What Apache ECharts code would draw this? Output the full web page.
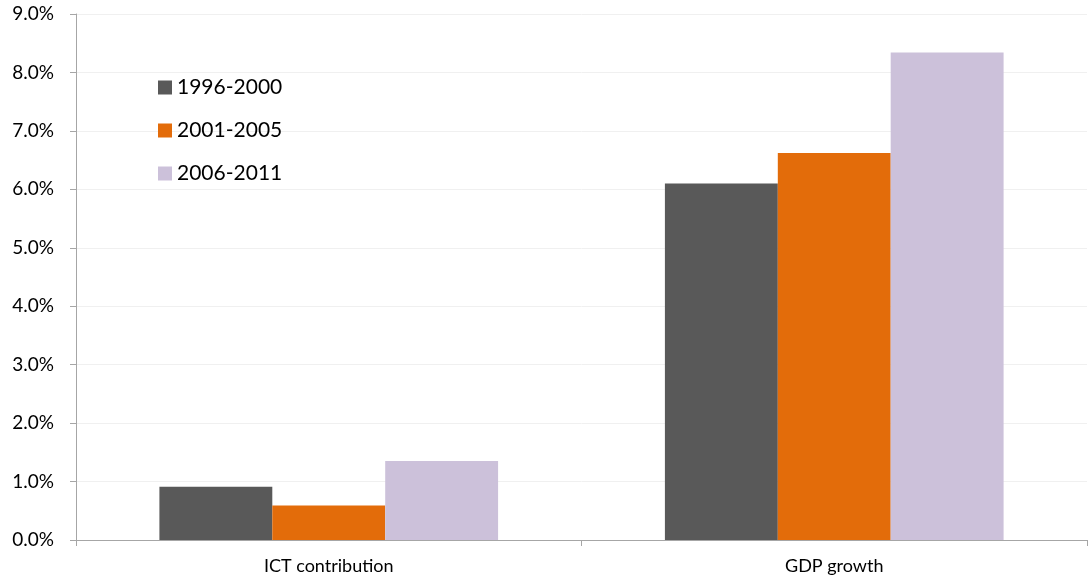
<!DOCTYPE html>
<html>
<head>
<meta charset="utf-8">
<script src="https://cdn.jsdelivr.net/npm/echarts@6/dist/echarts.min.js"></script>
<style>html,body{margin:0;padding:0;background:#fff}#c{width:1091px;height:581px}</style>
</head>
<body>
<div id="c"></div>
<script>
const categories = ['ICT contribution', 'GDP growth'];
const seriesNames = ['1996-2000', '2001-2005', '2006-2011'];
const s1996 = [0.91, 6.10];
const s2001 = [0.59, 6.62];
const s2006 = [1.35, 8.34];
const colors = ['#595959', '#E36C0A', '#CCC1DA'];
const FONT = 'Lato, "Open Sans", sans-serif';

const chart = echarts.init(document.getElementById('c'));
const data = [s1996, s2001, s2006];
chart.setOption({
  animation: false,
  textStyle: { fontFamily: FONT },
  grid: { left: 76, right: 4, top: 14, bottom: 41, containLabel: false },
  legend: {
    orient: 'vertical', left: 158, top: 77, padding: 0,
    itemWidth: 14, itemHeight: 14, itemGap: 22,
    icon: 'rect',
    textStyle: { fontSize: 21, color: '#000', fontFamily: FONT, lineHeight: 21 },
    data: seriesNames
  },
  xAxis: {
    type: 'category', data: categories,
    axisLine: { lineStyle: { color: '#a6a6a6', width: 1 } },
    axisTick: { show: true, length: 6, lineStyle: { color: '#a6a6a6' } },
    axisLabel: { fontSize: 18, color: '#000', margin: 17, fontFamily: FONT }
  },
  yAxis: {
    type: 'value', min: 0, max: 9, interval: 1,
    axisLine: { show: true, lineStyle: { color: '#a6a6a6', width: 1 } },
    axisTick: { show: true, length: 6, lineStyle: { color: '#a6a6a6' } },
    axisLabel: { fontSize: 19, color: '#000', margin: 22, fontFamily: FONT,
      formatter: v => v.toFixed(1) + '%' },
    splitLine: { lineStyle: { color: '#f0f0f0', width: 1 } }
  },
  series: seriesNames.map((n, i) => ({
    name: n, type: 'bar', data: data[i],
    barGap: '0%', barCategoryGap: '33%',
    itemStyle: { color: colors[i] }
  }))
});
</script>
</body>
</html>
